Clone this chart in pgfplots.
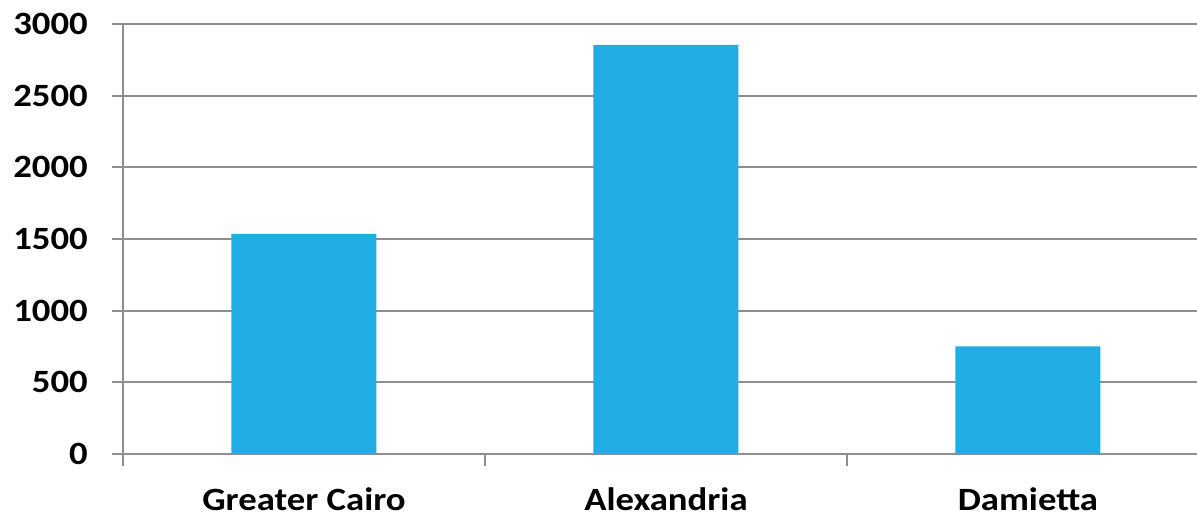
\documentclass[border=0pt]{standalone}
\usepackage{fontspec}
\newfontfamily\lab[FakeStretch=1.13]{Carlito}
\usepackage{pgfplots}
\pgfplotsset{compat=1.18}
\definecolor{barblue}{HTML}{1FADE3}
\definecolor{gridgray}{HTML}{8E8E8E}
\begin{document}
\begin{tikzpicture}
\begin{axis}[
  scale only axis,
  width=1074bp,height=430bp,
  xmin=-0.5,xmax=2.467,ymin=0,ymax=3000,
  axis x line*=bottom,axis y line*=left,
  axis line style={-,draw=gridgray,line width=1.8bp},
  ytick={0,500,...,3000},
  ymajorgrids,major grid style={draw=gridgray,line width=1.8bp},
  xtick={0,1,2},
  xticklabels={Greater Cairo,Alexandria,Damietta},
  minor xtick={-0.5,0.5,1.5,2.5},
  tick align=outside,
  major tick length=11bp,minor tick length=12bp,
  tick style={draw=gridgray,line width=1.8bp},
  major x tick style={draw=none},
  ticklabel style={font=\lab\fontsize{32.5bp}{39bp}\selectfont\bfseries},
  /pgf/number format/assume math mode=true,
  /pgf/number format/1000 sep={},
  yticklabel style={anchor=east,inner sep=0pt,xshift=-24bp},
  xticklabel style={anchor=base,inner sep=0pt,yshift=-45.5bp},
  clip=false,
]
\coordinate (o) at (rel axis cs:0,0);
\addplot[ybar,bar width=145bp,fill=barblue,draw=none] coordinates {
(0,1535) (1,2855) (2,750)
};
\end{axis}
\pgfresetboundingbox
\path[use as bounding box] ([shift={(-123bp,-65bp)}]o) rectangle ([shift={(1074bp,454bp)}]o);
\end{tikzpicture}
\end{document}
